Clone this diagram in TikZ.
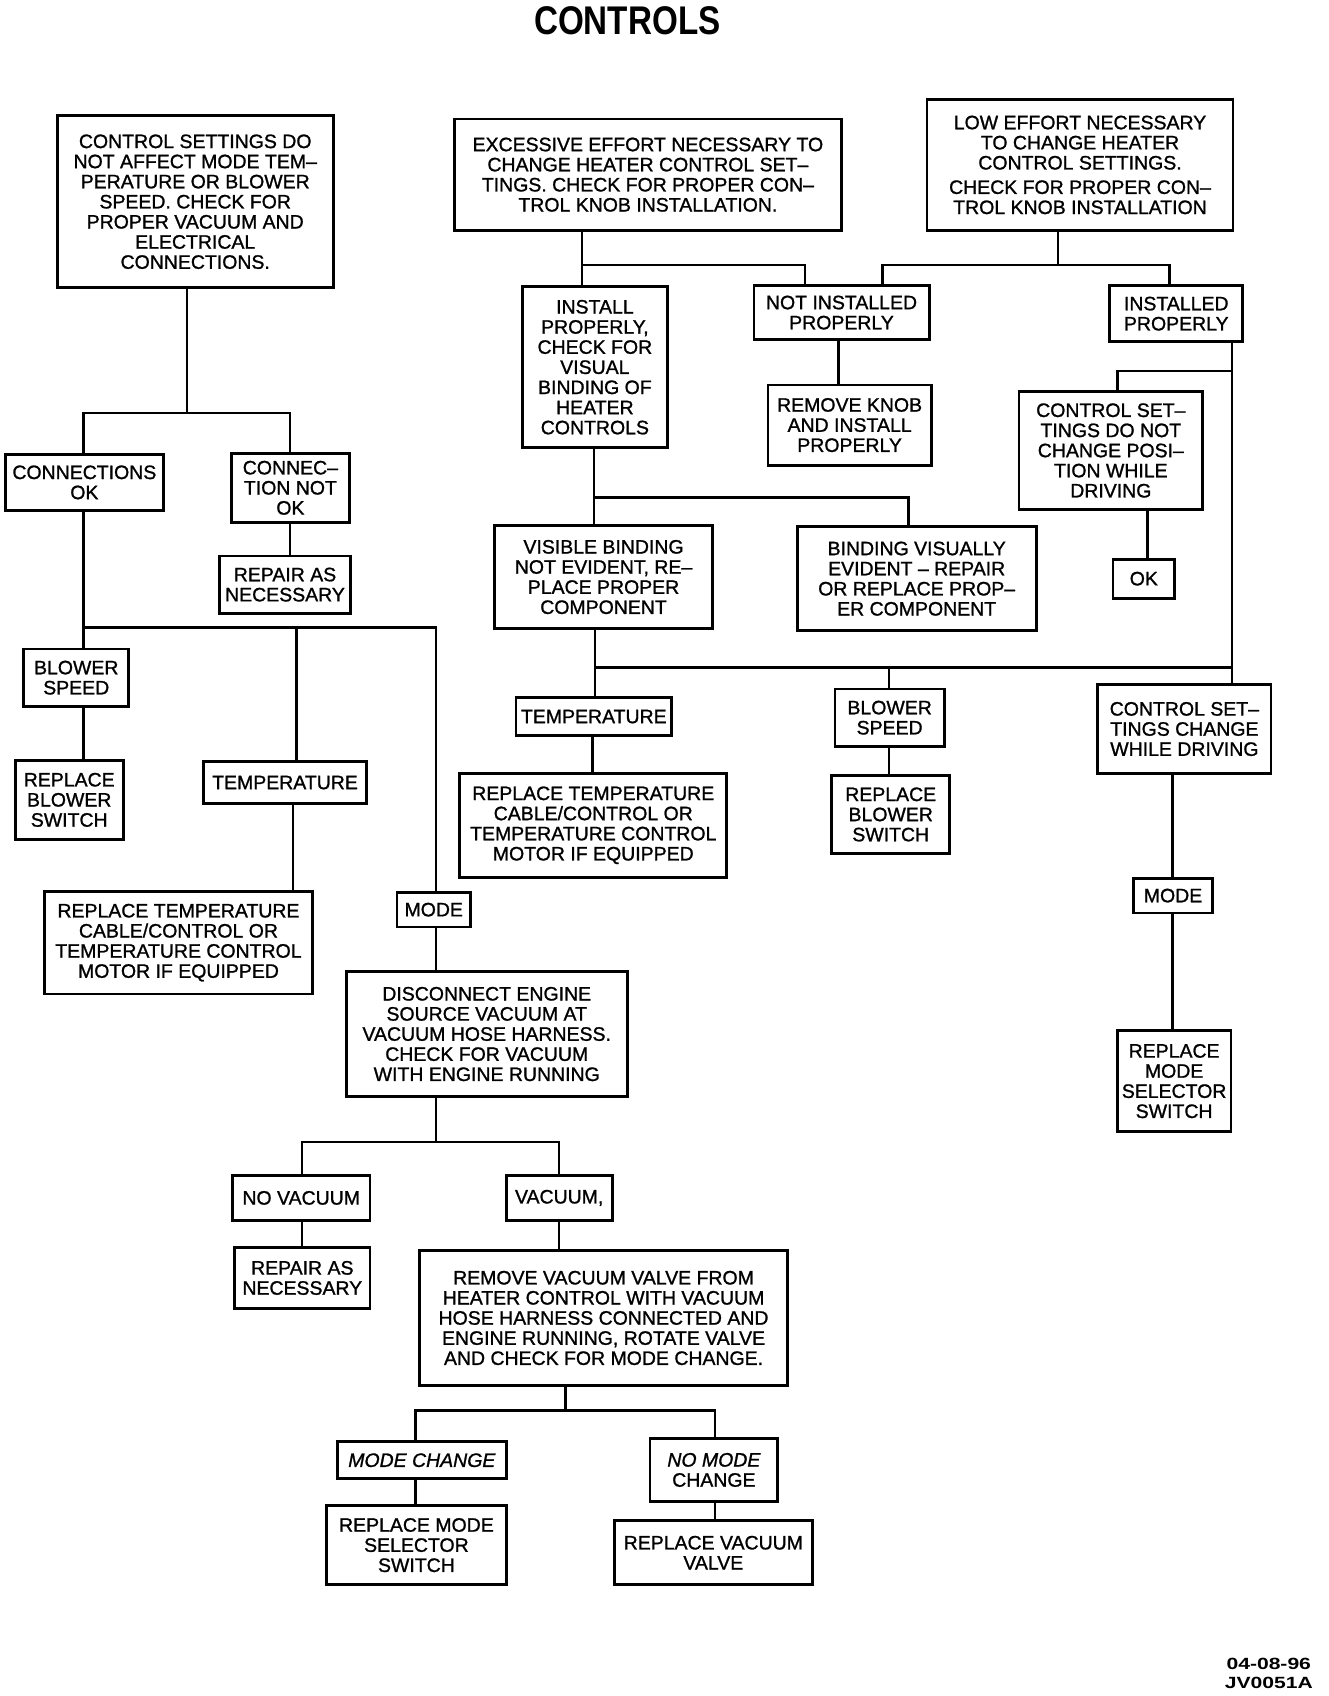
\documentclass[tikz,border=0pt]{standalone}
\usepackage{fontspec}
\usepackage{graphicx}
\setmainfont{Liberation Sans}[FakeBold=1.1]
\newfontfamily\heavyfont{Liberation Sans Bold}
\tikzset{
  box/.style={draw, line width=2.6pt, inner sep=0pt, align=center,
    font=\fontsize{18}{18.6}\selectfont},
  wire/.style={line width=2.3pt},
}
\newcommand\flowbox[6]{%
  \pgfmathsetmacro\fbw{#4-#2}\pgfmathsetmacro\fbh{#5-#3}%
  \node[box, minimum width=\fbw pt, minimum height=\fbh pt] (#1)
    at ({(#2+#4)/2},{(#3+#5)/2}) {#6};}
\begin{document}
\begin{tikzpicture}[x=1pt,y=-1pt]
\useasboundingbox (0,0) rectangle (1228,1568);
\fill[white] (0,0) rectangle (1228,1568);
% title
\node[inner sep=0pt, font=\heavyfont\fontsize{37}{40}\selectfont] (title) at (580,19) {\scalebox{0.83}[1]{CONTROLS}};
% footer
\node[inner sep=0pt, align=center, font=\heavyfont\fontsize{15}{18}\selectfont] (code) at (1173,1547) {\scalebox{1.3}[1]{04-08-96}\\[-1pt]\scalebox{1.3}[1]{JV0051A}};

% ---------- left branch ----------
\flowbox{b1}{53}{107}{308}{266}{CONTROL SETTINGS DO\\NOT AFFECT MODE TEM–\\PERATURE OR BLOWER\\SPEED. CHECK FOR\\PROPER VACUUM AND\\ELECTRICAL\\CONNECTIONS.}
\flowbox{cok}{5}{420}{151}{472}{CONNECTIONS\\OK}
\flowbox{cnot}{214}{419}{323}{483}{CONNEC–\\TION NOT\\OK}
\flowbox{rep1}{203}{514}{324}{567}{REPAIR AS\\NECESSARY}
\flowbox{bsp1}{22}{600}{119}{653}{BLOWER\\SPEED}
\flowbox{rbs1}{14}{703}{114}{776}{REPLACE\\BLOWER\\SWITCH}
\flowbox{tmp1}{188}{704}{339}{743}{TEMPERATURE}
\flowbox{rtc1}{41}{824}{289}{919}{REPLACE TEMPERATURE\\CABLE/CONTROL OR\\TEMPERATURE CONTROL\\MOTOR IF EQUIPPED}
\flowbox{mode1}{367}{825}{435}{857}{MODE}
\flowbox{disc}{320}{898}{580}{1014}{DISCONNECT ENGINE\\SOURCE VACUUM AT\\VACUUM HOSE HARNESS.\\CHECK FOR VACUUM\\WITH ENGINE RUNNING}
\flowbox{novac}{215}{1087}{342}{1128}{NO VACUUM}
\flowbox{vac}{468}{1087}{566}{1128}{VACUUM,}
\flowbox{rep2}{217}{1153}{342}{1210}{REPAIR AS\\NECESSARY}
\flowbox{rem}{388}{1156}{728}{1281}{REMOVE VACUUM VALVE FROM\\HEATER CONTROL WITH VACUUM\\HOSE HARNESS CONNECTED AND\\ENGINE RUNNING, ROTATE VALVE\\AND CHECK FOR MODE CHANGE.}
\flowbox{mchg}{312}{1333}{468}{1367}{\itshape MODE CHANGE}
\flowbox{nomchg}{601}{1330}{719}{1388}{{\itshape NO MODE}\\CHANGE}
\flowbox{rms}{302}{1392}{468}{1465}{REPLACE MODE\\SELECTOR\\SWITCH}
\flowbox{rvv}{568}{1406}{751}{1465}{REPLACE VACUUM\\VALVE}

% ---------- middle / right ----------
\flowbox{b2}{420}{110}{778}{213}{EXCESSIVE EFFORT NECESSARY TO\\CHANGE HEATER CONTROL SET–\\TINGS. CHECK FOR PROPER CON–\\TROL KNOB INSTALLATION.}
\flowbox{b3}{857}{92}{1140}{213}{LOW EFFORT NECESSARY\\TO CHANGE HEATER\\CONTROL SETTINGS.\\[4pt]CHECK FOR PROPER CON–\\TROL KNOB INSTALLATION}
\flowbox{inst}{483}{265}{617}{414}{INSTALL\\PROPERLY,\\CHECK FOR\\VISUAL\\BINDING OF\\HEATER\\CONTROLS}
\flowbox{notinst}{697}{264}{859}{314}{NOT INSTALLED\\PROPERLY}
\flowbox{rknob}{710}{356}{861}{430}{REMOVE KNOB\\AND INSTALL\\PROPERLY}
\flowbox{instp}{1026}{264}{1149}{316}{INSTALLED\\PROPERLY}
\flowbox{cdn}{942}{362}{1112}{471}{CONTROL SET–\\TINGS DO NOT\\CHANGE POSI–\\TION WHILE\\DRIVING}
\flowbox{ok}{1029}{517}{1086}{553}{OK}
\flowbox{vis}{457}{486}{659}{581}{VISIBLE BINDING\\NOT EVIDENT, RE–\\PLACE PROPER\\COMPONENT}
\flowbox{bve}{737}{487}{958}{583}{BINDING VISUALLY\\EVIDENT – REPAIR\\OR REPLACE PROP–\\ER COMPONENT}
\flowbox{tmp2}{477}{645}{621}{680}{TEMPERATURE}
\flowbox{rtc2}{425}{715}{672}{811}{REPLACE TEMPERATURE\\CABLE/CONTROL OR\\TEMPERATURE CONTROL\\MOTOR IF EQUIPPED}
\flowbox{bsp2}{772}{637}{873}{690}{BLOWER\\SPEED}
\flowbox{rbs2}{769}{717}{878}{789}{REPLACE\\BLOWER\\SWITCH}
\flowbox{ctc}{1015}{633}{1175}{715}{CONTROL SET–\\TINGS CHANGE\\WHILE DRIVING}
\flowbox{mode2}{1048}{812}{1121}{844}{MODE}
\flowbox{rmss}{1033}{953}{1138}{1046}{REPLACE\\MODE\\SELECTOR\\SWITCH}

% ---------- connectors: left ----------
\coordinate (L1) at (173,382);
\draw[wire] (b1.south -| L1) -- (L1);
\draw[wire] (cok.north -| 77,0) |- (L1) -| (cnot.north -| 268,0);
\draw[wire] (cnot.south -| 268,0) -- (rep1.north -| 268,0);
\coordinate (L2) at (77,580);
\draw[wire] (cok.south -| L2) -- (bsp1.north -| L2);
\draw[wire] (L2) -| (mode1.north -| 403,0);
\draw[wire] (L2 -| 274,0) -- (tmp1.north -| 274,0);
\draw[wire] (bsp1.south -| 77,0) -- (rbs1.north -| 77,0);
\draw[wire] (tmp1.south -| 271,0) -- (rtc1.north -| 271,0);
\draw[wire] (mode1.south -| 403,0) -- (disc.north -| 403,0);
\coordinate (L3) at (403,1056);
\draw[wire] (disc.south -| L3) -- (L3);
\draw[wire] (novac.north -| 279,0) |- (L3) -| (vac.north -| 517,0);
\draw[wire] (novac.south -| 279,0) -- (rep2.north -| 279,0);
\draw[wire] (vac.south -| 517,0) -- (rem.north -| 517,0);
\coordinate (L4) at (523,1304);
\draw[wire] (rem.south -| L4) -- (L4);
\draw[wire] (mchg.north -| 384,0) |- (L4) -| (nomchg.north -| 661,0);
\draw[wire] (mchg.south -| 384,0) -- (rms.north -| 384,0);
\draw[wire] (nomchg.south -| 661,0) -- (rvv.north -| 661,0);

% ---------- connectors: middle / right ----------
\coordinate (M1) at (538,245);
\draw[wire] (b2.south -| M1) -- (inst.north -| M1);
\draw[wire] (M1) -| (notinst.north -| 744,0);
\coordinate (R1) at (978,245);
\draw[wire] (b3.south -| R1) -- (R1);
\draw[wire] (notinst.north -| 816,0) |- (R1) -| (instp.north -| 1081,0);
\draw[wire] (notinst.south -| 775,0) -- (rknob.north -| 775,0);
\draw[wire] (instp.south -| 1139,0) -- (ctc.north -| 1139,0);
\coordinate (R2) at (1139,343);
\draw[wire] (R2) -| (cdn.north -| 1033,0);
\draw[wire] (cdn.south -| 1061,0) -- (ok.north -| 1061,0);
\coordinate (M2) at (549,460);
\draw[wire] (inst.south -| M2) -- (vis.north -| M2);
\draw[wire] (M2) -| (bve.north -| 840,0);
\draw[wire] (vis.south -| 550,0) -- (tmp2.north -| 550,0);
\coordinate (M3) at (550,617);
\coordinate (R3) at (1139,617);
\draw[wire] (M3) -- (R3);
\draw[wire] (M3 -| 822,0) -- (bsp2.north -| 822,0);
\draw[wire] (tmp2.south -| 548,0) -- (rtc2.north -| 548,0);
\draw[wire] (bsp2.south -| 822,0) -- (rbs2.north -| 822,0);
\draw[wire] (ctc.south -| 1084,0) -- (mode2.north -| 1084,0);
\draw[wire] (mode2.south -| 1084,0) -- (rmss.north -| 1084,0);
\end{tikzpicture}
\end{document}
